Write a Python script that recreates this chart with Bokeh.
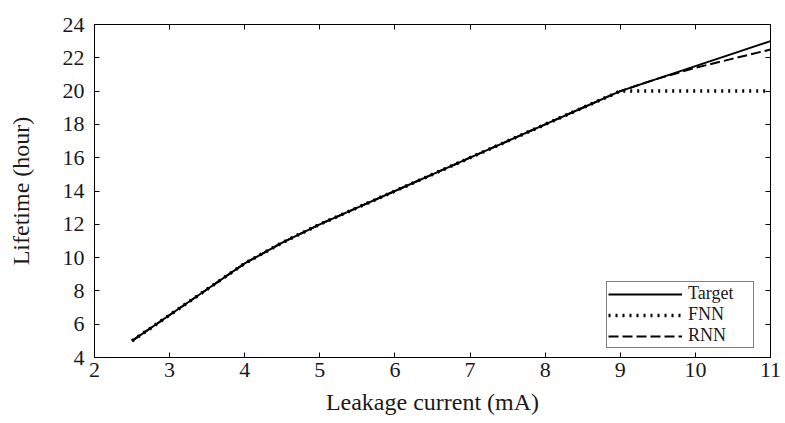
from bokeh.plotting import figure
from bokeh.models import LinearAxis, FixedTicker, Legend, LegendItem, Range1d, CustomLabelingPolicy
from bokeh.embed import file_html
from bokeh.resources import INLINE

# ---- data ----
leakage = [2.5, 3.0, 3.5, 4.0, 4.5, 5.0, 5.5, 6.0, 6.5, 7.0, 7.5, 8.0, 8.5, 9.0, 9.5, 10.0, 10.5, 11.0]
target = [5.0, 6.55, 8.1, 9.65, 10.9, 12.0, 13.0, 14.0, 15.0, 16.0, 17.0, 18.0, 19.0, 20.0, 20.75, 21.5, 22.25, 23.0]
fnn = [5.0, 6.55, 8.1, 9.65, 10.9, 12.0, 13.0, 14.0, 15.0, 16.0, 17.0, 18.0, 19.0, 20.0, 20.0, 20.0, 20.0, 20.0]
rnn = [5.0, 6.55, 8.1, 9.65, 10.9, 12.0, 13.0, 14.0, 15.0, 16.0, 17.0, 18.0, 19.0, 20.0, 20.75, 21.4, 21.95, 22.5]
series_names = ["Target", "FNN", "RNN"]
x_ticks = [2, 3, 4, 5, 6, 7, 8, 9, 10, 11]
y_ticks = [4, 6, 8, 10, 12, 14, 16, 18, 20, 22, 24]

FONT = "Liberation Serif"
TXT = "#1a1a1a"

p = figure(width=785, height=423, output_backend="svg", toolbar_location=None,
           x_range=Range1d(2, 11), y_range=Range1d(4, 24),
           min_border_left=94, min_border_right=15, min_border_top=24, min_border_bottom=66)
p.xgrid.visible = False
p.ygrid.visible = False
p.outline_line_color = "black"
p.outline_line_width = 1
p.background_fill_color = "white"
p.border_fill_color = "white"

def style_axis(ax, ticks, show_labels=True):
    ax.ticker = FixedTicker(ticks=ticks)
    ax.major_tick_in = 5
    ax.major_tick_out = 0
    ax.minor_tick_in = 0
    ax.minor_tick_out = 0
    ax.axis_line_color = "black"
    ax.major_tick_line_color = "black"
    if show_labels:
        ax.major_label_text_font = FONT
        ax.major_label_text_font_size = "22px"
        ax.major_label_text_color = TXT
        ax.axis_label_text_font = FONT
        ax.axis_label_text_font_size = "24px"
        ax.axis_label_text_font_style = "normal"
        ax.axis_label_text_color = TXT
    else:
        ax.major_label_policy = CustomLabelingPolicy(
            code="for (const i of Array.from(indices)) { indices.unset(i) }\nreturn indices")
        ax.major_label_standoff = 0

style_axis(p.xaxis[0], x_ticks)
style_axis(p.yaxis[0], y_ticks)
p.xaxis[0].axis_label = "Leakage current (mA)"
p.yaxis[0].axis_label = "Lifetime (hour)"
p.xaxis[0].major_label_standoff = 5
p.xaxis[0].axis_label_standoff = 9
p.yaxis[0].major_label_standoff = 10
p.yaxis[0].axis_label_standoff = 26

top = LinearAxis()
style_axis(top, x_ticks, show_labels=False)
p.add_layout(top, "above")
right = LinearAxis()
style_axis(right, y_ticks, show_labels=False)
p.add_layout(right, "right")

r_target = p.line(leakage, target, line_color="black", line_width=2)
r_fnn = p.line(leakage, fnn, line_color="black", line_width=3.5, line_dash="2 5", line_cap="butt")
r_rnn = p.line(leakage, rnn, line_color="black", line_width=2, line_dash="10 4")

legend = Legend(items=[LegendItem(label=series_names[0], renderers=[r_target]),
                       LegendItem(label=series_names[1], renderers=[r_fnn]),
                       LegendItem(label=series_names[2], renderers=[r_rnn])],
                location=(512, 9))
legend.border_line_color = "black"
legend.border_line_width = 1
legend.background_fill_alpha = 1
legend.label_text_font = FONT
legend.label_text_font_size = "18px"
legend.label_text_color = TXT
legend.glyph_width = 74
legend.glyph_height = 16
legend.label_height = 16
legend.label_width = 64
legend.spacing = 0
legend.padding = 1
legend.margin = 0
legend.label_standoff = 6
p.add_layout(legend)

open("out.html", "w").write(file_html(p, INLINE))
